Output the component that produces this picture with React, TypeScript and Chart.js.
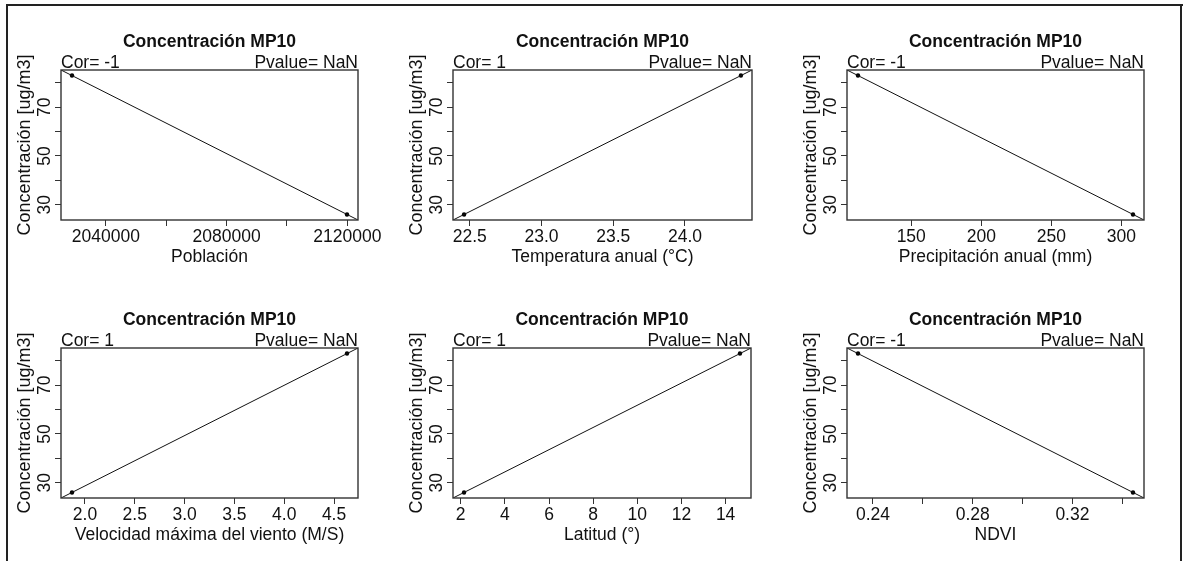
import React, { useEffect, useRef } from "react";
import { Chart, registerables } from "chart.js";

Chart.register(...registerables);

// ---- Data (two observations) ----
const concentracion = [83.0, 26.0];
const poblacion = [2028800, 2119900];
const temperatura = [24.39, 22.46];
const precipitacion = [112.0, 308.3];
const viento = [4.63, 1.87];
const latitud = [14.65, 2.15];
const ndvi = [0.234, 0.3443];

// ---- Tick values / labels ----
const yTicks = [30, 40, 50, 60, 70, 80];
const yTickLabels = ["30", "", "50", "", "70", ""];

const poblacionTicks = [2040000, 2060000, 2080000, 2100000, 2120000];
const poblacionTickLabels = ["2040000", "", "2080000", "", "2120000"];
const temperaturaTicks = [22.5, 23.0, 23.5, 24.0];
const temperaturaTickLabels = ["22.5", "23.0", "23.5", "24.0"];
const precipitacionTicks = [150, 200, 250, 300];
const precipitacionTickLabels = ["150", "200", "250", "300"];
const vientoTicks = [2.0, 2.5, 3.0, 3.5, 4.0, 4.5];
const vientoTickLabels = ["2.0", "2.5", "3.0", "3.5", "4.0", "4.5"];
const latitudTicks = [2, 4, 6, 8, 10, 12, 14];
const latitudTickLabels = ["2", "4", "6", "8", "10", "12", "14"];
const ndviTicks = [0.24, 0.26, 0.28, 0.3, 0.32, 0.34];
const ndviTickLabels = ["0.24", "", "0.28", "", "0.32", ""];

// ---- Texts ----
const titulo = "Concentración MP10";
const yTitulo = "Concentración [ug/m3]";
const pvalueTexto = "NaN";
const xTitulos = [
  "Población",
  "Temperatura anual (°C)",
  "Precipitación anual (mm)",
  "Velocidad máxima del viento (M/S)",
  "Latitud (°)",
  "NDVI",
];

const variables = [poblacion, temperatura, precipitacion, viento, latitud, ndvi];
const xTicksList = [poblacionTicks, temperaturaTicks, precipitacionTicks, vientoTicks, latitudTicks, ndviTicks];
const xTickLabelsList = [
  poblacionTickLabels,
  temperaturaTickLabels,
  precipitacionTickLabels,
  vientoTickLabels,
  latitudTickLabels,
  ndviTickLabels,
];

// ---- Layout (plot boxes in page pixels) ----
const boxes = [
  { l: 61, t: 70, r: 358, b: 220 },
  { l: 453, t: 70, r: 752, b: 220 },
  { l: 847, t: 70, r: 1144, b: 220 },
  { l: 61, t: 348, r: 358, b: 498 },
  { l: 453, t: 348, r: 751, b: 498 },
  { l: 847, t: 348, r: 1144, b: 498 },
];
const PAD_L = 60;
const PAD_T = 70;
const PAD_R = 40;
const PAD_B = 50;
const FONT = '"Liberation Sans", Arial, sans-serif';

function rRange(v: number[]) {
  const mn = Math.min(...v);
  const mx = Math.max(...v);
  const d = (mx - mn) * 0.04;
  return [mn - d, mx + d];
}

function fit(xs: number[], ys: number[]) {
  const n = xs.length;
  const mx = xs.reduce((a, b) => a + b, 0) / n;
  const my = ys.reduce((a, b) => a + b, 0) / n;
  let sxy = 0, sxx = 0, syy = 0;
  for (let i = 0; i < n; i++) {
    sxy += (xs[i] - mx) * (ys[i] - my);
    sxx += (xs[i] - mx) ** 2;
    syy += (ys[i] - my) ** 2;
  }
  const b = sxy / sxx;
  const a = my - b * mx;
  const r = sxy / Math.sqrt(sxx * syy);
  return { a, b, r };
}

function Panel({ idx }: { idx: number }) {
  const ref = useRef<HTMLCanvasElement>(null);
  const box = boxes[idx];
  const w = box.r - box.l + PAD_L + PAD_R;
  const h = box.b - box.t + PAD_T + PAD_B;

  useEffect(() => {
    if (!ref.current) return;
    const xv = variables[idx];
    const [xmin, xmax] = rRange(xv);
    const [ymin, ymax] = rRange(concentracion);
    const { a, b, r } = fit(xv, concentracion);
    const corTexto = "Cor= " + String(Math.round(r));
    const xTicks = xTicksList[idx];
    const xLabels = xTickLabelsList[idx];
    const xTitle = xTitulos[idx];

    const textPlugin = {
      id: "rtext",
      afterDraw(chart: any) {
        const ctx = chart.ctx as CanvasRenderingContext2D;
        const ca = chart.chartArea;
        ctx.save();
        ctx.strokeStyle = "#333";
        ctx.lineWidth = 1.4;
        ctx.strokeRect(ca.left, ca.top, ca.right - ca.left, ca.bottom - ca.top);
        ctx.fillStyle = "#111";
        ctx.textBaseline = "alphabetic";
        ctx.font = "bold 17.5px " + FONT;
        ctx.textAlign = "center";
        ctx.fillText(titulo, (ca.left + ca.right) / 2, ca.top - 23);
        ctx.font = "17.5px " + FONT;
        ctx.textAlign = "left";
        ctx.fillText(corTexto, ca.left, ca.top - 2);
        ctx.textAlign = "right";
        ctx.fillText("Pvalue= " + pvalueTexto, ca.right, ca.top - 2);
        const xs = chart.scales.x;
        ctx.textAlign = "center";
        xs.ticks.forEach((t: any, i: number) => {
          const lbl = xLabels[i];
          if (!lbl) return;
          ctx.fillText(lbl, xs.getPixelForValue(t.value), ca.bottom + 22);
        });
        ctx.fillText(xTitle, (ca.left + ca.right) / 2, ca.bottom + 42);
        const ys = chart.scales.y;
        ys.ticks.forEach((t: any, i: number) => {
          const lbl = yTickLabels[i];
          if (!lbl) return;
          ctx.save();
          ctx.translate(ca.left - 11, ys.getPixelForValue(t.value));
          ctx.rotate(-Math.PI / 2);
          ctx.textAlign = "center";
          ctx.fillText(lbl, 0, 0);
          ctx.restore();
        });
        ctx.save();
        ctx.translate(ca.left - 31, (ca.top + ca.bottom) / 2);
        ctx.rotate(-Math.PI / 2);
        ctx.font = "18px " + FONT;
        ctx.textAlign = "center";
        ctx.fillText(yTitulo, 0, 0);
        ctx.restore();
        ctx.restore();
      },
    };

    const chart = new Chart(ref.current, {
      type: "scatter",
      data: {
        datasets: [
          {
            data: [
              { x: xmin, y: a + b * xmin },
              { x: xmax, y: a + b * xmax },
            ],
            showLine: true,
            borderColor: "#111",
            borderWidth: 1,
            pointRadius: 0,
            fill: false,
          },
          {
            data: xv.map((x, i) => ({ x, y: concentracion[i] })),
            pointRadius: 2.2,
            backgroundColor: "#000",
            borderWidth: 0,
          },
        ],
      },
      options: {
        animation: false,
        responsive: false,
        layout: { padding: { top: PAD_T, right: PAD_R, left: 0, bottom: 0 } },
        plugins: { legend: { display: false }, tooltip: { enabled: false }, title: { display: false } },
        scales: {
          x: {
            type: "linear",
            min: xmin,
            max: xmax,
            afterBuildTicks: (s: any) => {
              s.ticks = xTicks.map((v) => ({ value: v }));
            },
            afterFit: (s: any) => {
              s.height = PAD_B;
            },
            ticks: { display: false },
            grid: { drawOnChartArea: false, drawTicks: true, tickLength: 6, color: "#333", lineWidth: 1 },
            border: { display: false },
          },
          y: {
            type: "linear",
            min: ymin,
            max: ymax,
            afterBuildTicks: (s: any) => {
              s.ticks = yTicks.map((v) => ({ value: v }));
            },
            afterFit: (s: any) => {
              s.width = PAD_L;
            },
            ticks: { display: false },
            grid: { drawOnChartArea: false, drawTicks: true, tickLength: 6, color: "#333", lineWidth: 1 },
            border: { display: false },
          },
        },
      },
      plugins: [textPlugin],
    });
    return () => chart.destroy();
  }, [idx]);

  return (
    <canvas
      ref={ref}
      width={w}
      height={h}
      style={{ position: "absolute", left: box.l - PAD_L, top: box.t - PAD_T, width: w, height: h }}
    />
  );
}

export default function App() {
  return (
    <div
      style={{
        position: "absolute",
        left: 0,
        top: 0,
        width: 1189,
        height: 561,
        background: "#fff",
        overflow: "hidden",
      }}
    >
      <div style={{ position: "absolute", left: 6, top: 4, width: 1177, height: 2, background: "#222" }} />
      <div style={{ position: "absolute", left: 6, top: 4, width: 2, height: 557, background: "#222" }} />
      <div style={{ position: "absolute", left: 1180, top: 4, width: 2, height: 557, background: "#222" }} />
      {boxes.map((_, i) => (
        <Panel key={i} idx={i} />
      ))}
    </div>
  );
}
